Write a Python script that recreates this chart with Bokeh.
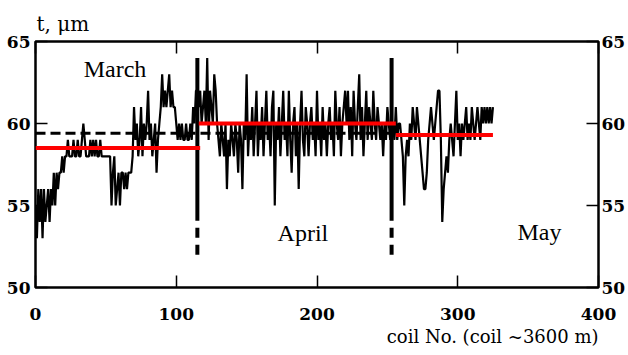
from bokeh.plotting import figure
from bokeh.models import Range1d, LinearAxis, FixedTicker, Label, Title
from bokeh.embed import file_html
from bokeh.resources import INLINE

# ---- data ----
march = [55, 53, 56, 54, 56, 53, 56, 54, 55, 56,
         54, 56, 55, 57, 55, 57, 56, 57, 57, 58,
         57, 58, 58, 59, 58, 58, 58, 59, 58, 58,
         59, 58, 58, 59, 60, 59, 58, 58, 58, 59,
         58, 59, 58, 59, 58, 58, 59, 58, 58, 58,
         58, 58, 58, 58, 55, 57, 58, 55, 56, 57,
         55, 57, 57, 56, 57, 56, 57, 57, 57, 58,
         61, 59, 60, 58, 59, 61, 58, 60, 59, 60,
         62, 59, 60, 58, 59, 60, 57, 59, 60, 61,
         63, 61, 62, 61, 62, 63, 61, 62, 61, 61,
         60, 59, 60, 59, 60, 59, 59, 60, 59, 59,
         60, 59, 61, 60, 62]
april = [62, 61, 62, 60, 61, 62,
         60, 64, 59, 62, 61, 60, 63,
         62, 60, 59, 58, 60, 59, 58,
         60, 56, 59, 58, 60, 59, 58, 60, 59, 57,
         60, 59, 56, 60, 59, 63, 58, 60, 59, 61, 58,
         60, 62, 58, 60, 59, 61, 58, 60, 62, 59, 60,
         58, 61, 62, 55, 60, 59, 61, 58, 60, 62,
         59, 60, 58, 62, 59, 57, 60, 61, 58, 60, 56,
         60, 62, 59, 58, 61, 60, 58, 60, 61, 59,
         60, 58, 62, 59, 60, 58, 61, 59, 60, 58, 60,
         61, 59, 60, 58, 62, 60, 59, 61, 58, 60, 61,
         62, 60, 62, 59, 61, 58, 62, 60, 59, 61,
         63, 59, 61, 58, 60, 62, 59, 61, 60, 59, 62,
         60, 59, 61, 60, 59, 60, 58, 60, 59, 61, 60, 59, 60]
may = [60, 59, 61, 59, 60, 60, 59, 58,
       55, 58, 59, 58,
       60, 59, 61, 60, 59, 61, 60,
       59, 58, 57, 56, 56, 57, 59,
       60, 61, 60, 59, 60, 61, 62,
       62, 59, 54, 56, 57, 58, 57,
       59, 60, 59, 58, 60, 62, 59, 60, 58,
       60, 59, 60, 61, 59, 60, 59, 61, 60,
       59, 60, 61, 60, 59, 61, 60, 61, 60, 61, 60, 61, 60, 61]
thickness = march + april + may
coil = list(range(len(thickness)))

overall_mean = 59.4
overall_x = [0, 255]

month_start = [0, 116, 256]
month_end = [117, 256, 325]
month_mean = [58.5, 60.0, 59.3]

boundaries = [115, 253]
boundary_low = 52
boundary_solid_from = 54.07
boundary_high = 64

month_names = ["March", "April", "May"]
month_label_x = [56.5, 190, 358]
month_label_y = [63.3, 53.3, 53.4]

x_ticks = [0, 100, 200, 300, 400]
y_ticks = [50, 55, 60, 65]

FONT = "Liberation Serif"
AXFONT = "DejaVu Serif"

p = figure(width=628, height=355, x_range=Range1d(0, 400), y_range=Range1d(50, 65),
           output_backend="svg", toolbar_location=None,
           min_border_left=35, min_border_right=27, min_border_top=41, min_border_bottom=68)
p.xgrid.visible = False
p.ygrid.visible = False
p.outline_line_color = "black"
p.outline_line_width = 2.5
p.background_fill_color = "white"
p.border_fill_color = "white"

p.title.text = "t, \u03bcm"
p.title.align = "left"
p.title.offset = 1
p.title.standoff = 12
p.title.text_font = AXFONT
p.title.text_font_size = "20px"
p.title.text_font_style = "normal"
p.title.text_color = "black"

def style_axis(ax, standoff):
    ax.axis_line_color = None
    ax.major_tick_in = 12
    ax.major_tick_out = 0
    ax.minor_tick_in = 0
    ax.minor_tick_out = 0
    ax.major_tick_line_color = "black"
    ax.major_tick_line_width = 1.5
    ax.major_label_text_font = AXFONT
    ax.major_label_text_font_style = "bold"
    ax.major_label_text_font_size = "17px"
    ax.major_label_text_color = "black"
    ax.major_label_standoff = standoff

p.xaxis.ticker = FixedTicker(ticks=x_ticks)
p.yaxis.ticker = FixedTicker(ticks=y_ticks)
style_axis(p.xaxis[0], 20)
style_axis(p.yaxis[0], 5)

right = LinearAxis(ticker=FixedTicker(ticks=y_ticks))
style_axis(right, 3)
p.add_layout(right, "right")
top = LinearAxis(ticker=FixedTicker(ticks=x_ticks))
style_axis(top, 0)
top.major_label_overrides = {t: "" for t in x_ticks}
p.add_layout(top, "above")

xlabel = Title(text="coil No. (coil ~3600 m)", align="right", standoff=2,
               text_font=AXFONT, text_font_size="18px", text_font_style="normal",
               text_color="black")
p.add_layout(xlabel, "below")

# data line
p.line(coil, thickness, line_color="black", line_width=2.2)

# overall mean (dashed)
p.line(overall_x, [overall_mean, overall_mean], line_color="black", line_width=3, line_dash="10 5")

# month boundaries
p.segment(x0=boundaries, y0=[boundary_low] * 2, x1=boundaries, y1=[boundary_solid_from] * 2,
          line_color="black", line_width=4, line_dash="10 7")
p.segment(x0=boundaries, y0=[boundary_solid_from] * 2, x1=boundaries, y1=[boundary_high] * 2,
          line_color="black", line_width=4)

# monthly means
p.segment(x0=month_start, y0=month_mean, x1=month_end, y1=month_mean,
          line_color="red", line_width=4)

for name, lx, ly in zip(month_names, month_label_x, month_label_y):
    p.add_layout(Label(x=lx, y=ly, text=name, text_font=FONT, text_font_size="24px",
                       text_align="center", text_baseline="middle", text_color="black"))

open("out.html", "w").write(file_html(p, INLINE))
